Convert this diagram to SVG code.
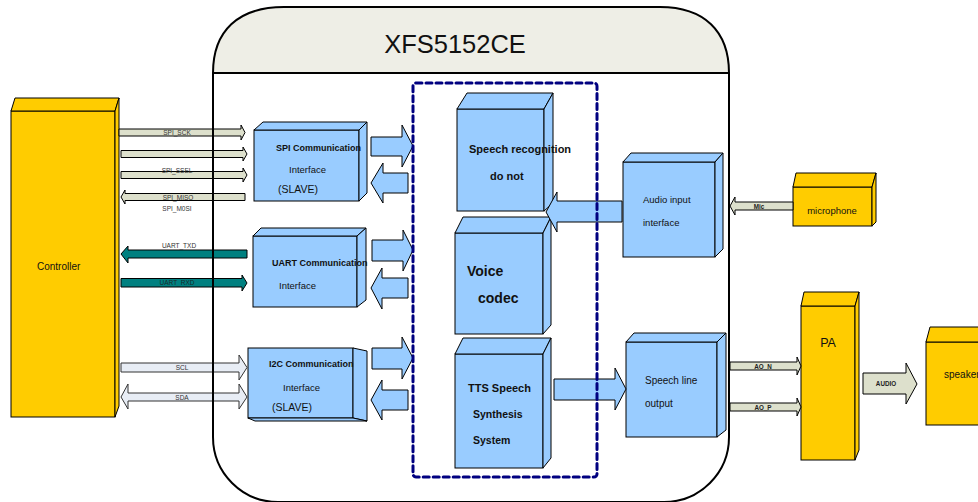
<svg xmlns="http://www.w3.org/2000/svg" width="978" height="502" viewBox="0 0 978 502">
<defs>
<style>
text{font-family:"Liberation Sans",Arial,sans-serif;fill:#111}
.blue{fill:#99CCFF;stroke:#000;stroke-width:1}
.yel{fill:#FFCC00;stroke:#000;stroke-width:1}
.beige{fill:#DDE0CC;stroke:#000;stroke-width:1}
.teal{fill:#008080;stroke:#000;stroke-width:1}
.pale{fill:#E8EDF5;stroke:#333;stroke-width:1}
.tiny{font-size:6.5px;fill:#333}
.tinyb{font-size:6.3px;font-weight:bold;fill:#222}
.b9{font-size:9px;font-weight:bold}
.n95{font-size:9.5px}
.b11{font-size:11px;font-weight:bold}
</style>
</defs>
<rect width="978" height="502" fill="#fff"/>
<g id="chip-bg">
<path d="M213,73 L213,437 A65,65 0 0 0 278,502 L664,502 A65,65 0 0 0 729,437 L729,73 Z" fill="#fff"/>
<path d="M213,73 C213,31 238,7 284,7 L660,7 C704,7 729,31 729,73 Z" fill="#EEEEE6"/>
</g>
<g id="controller">
<rect class="yel" x="11" y="111" width="104" height="306"/>
<polygon class="yel" points="11,111 15,98 119,98 115,111"/>
<polygon class="yel" points="115,111 119,98 119,406 115,417"/>
<text x="37" y="270" font-size="10">Controller</text>
</g>
<g id="spi-if">
<rect class="blue" x="254" y="130" width="105" height="71"/>
<polygon class="blue" points="254,130 263,122 367,122 359,130"/>
<polygon class="blue" points="359,130 367,122 367,193 359,201"/>
<text class="b9" x="276" y="151">SPI Communication</text>
<text class="n95" x="289" y="173">Interface</text>
<text x="278" y="193" font-size="10.5">(SLAVE)</text>
</g>
<g id="uart-if">
<rect class="blue" x="253" y="236" width="104" height="71"/>
<polygon class="blue" points="253,236 261,228 366,228 357,236"/>
<polygon class="blue" points="357,236 366,228 366,300 357,307"/>
<text class="b9" x="272" y="266">UART Communication</text>
<text class="n95" x="279" y="289">Interface</text>
</g>
<g id="i2c-if">
<rect class="blue" x="248" y="348" width="105" height="70"/>
<polygon class="blue" points="353,348 367,351 367,421 353,418"/>
<polygon class="blue" points="248,418 255,421 367,421 353,418"/>
<text class="b9" x="269" y="367">I2C Communication</text>
<text class="n95" x="283" y="391">Interface</text>
<text x="272" y="411" font-size="10.5">(SLAVE)</text>
</g>
<g id="speech-recognition">
<rect class="blue" x="457" y="109" width="87" height="102"/>
<polygon class="blue" points="457,109 467,93 553,93 544,109"/>
<polygon class="blue" points="544,109 553,93 553,203 544,211"/>
<text class="b11" x="469" y="153">Speech recognition</text>
<text class="b11" x="490" y="180">do not</text>
</g>
<g id="voice-codec">
<rect class="blue" x="455" y="233" width="88" height="101"/>
<polygon class="blue" points="455,233 463,217 551,217 543,233"/>
<polygon class="blue" points="543,233 551,217 551,325 543,334"/>
<text x="467" y="276" font-size="14" font-weight="bold">Voice</text>
<text x="478" y="303" font-size="14" font-weight="bold">codec</text>
</g>
<g id="tts">
<rect class="blue" x="455" y="354" width="88" height="114"/>
<polygon class="blue" points="455,354 463,338 551,338 543,354"/>
<polygon class="blue" points="543,354 551,338 551,458 543,468"/>
<text class="b11" x="468" y="392">TTS Speech</text>
<text x="473" y="418" font-size="10.5" font-weight="bold">Synthesis</text>
<text x="473" y="444" font-size="10.5" font-weight="bold">System</text>
</g>
<g id="audio-input">
<rect class="blue" x="623" y="162" width="92" height="95"/>
<polygon class="blue" points="623,162 631,153 723,153 715,162"/>
<polygon class="blue" points="715,162 723,153 723,249 715,257"/>
<text class="n95" x="643" y="203">Audio input</text>
<text class="n95" x="643" y="226">interface</text>
</g>
<g id="speech-line-output">
<rect class="blue" x="626" y="342" width="91" height="95"/>
<polygon class="blue" points="626,342 634,333 726,333 717,342"/>
<polygon class="blue" points="717,342 726,333 726,430 717,437"/>
<text x="645" y="384" font-size="10">Speech line</text>
<text x="645" y="407" font-size="10">output</text>
</g>
<g id="microphone">
<rect class="yel" x="793" y="187" width="79" height="39"/>
<polygon class="yel" points="793,187 796,173 876,173 872,187"/>
<polygon class="yel" points="872,187 876,173 876,222 872,226"/>
<text x="832" y="214" font-size="9.5" text-anchor="middle">microphone</text>
</g>
<g id="pa">
<rect class="yel" x="801" y="306" width="54" height="154"/>
<polygon class="yel" points="801,306 804,292 859,292 855,306"/>
<polygon class="yel" points="855,306 859,292 859,450 855,460"/>
<text x="828" y="347" font-size="12.5" text-anchor="middle">PA</text>
</g>
<g id="speaker">
<rect class="yel" x="926" y="342" width="62" height="83"/>
<polygon class="yel" points="926,342 930,327 992,327 988,342"/>
<text x="944" y="378" font-size="10">speaker</text>
</g>
<g id="connectors">
<polygon class="beige" points="119,129 241,129 241,125 245,132.5 241,140 241,136 119,136"/>
<text class="tiny" x="177" y="135" text-anchor="middle">SPI_SCK</text>
<polygon class="beige" points="121,150.5 243,150.5 243,147 247,154 243,161 243,157.5 121,157.5"/>
<polygon class="beige" points="121,171.5 243,171.5 243,168 247,175 243,182 243,178.5 121,178.5"/>
<text class="tiny" x="177" y="173" text-anchor="middle">SPI_SSEL</text>
<polygon class="beige" points="245,193.5 125,193.5 125,190 121,197 125,204 125,200.5 245,200.5"/>
<text class="tiny" x="178" y="199.5" text-anchor="middle">SPI_MISO</text>
<text class="tiny" x="177" y="211" text-anchor="middle">SPI_M0SI</text>
<polygon class="teal" points="247,250 128,250 128,246 121,254 128,263 128,258 247,258"/>
<text class="tiny" x="179" y="248" text-anchor="middle">UART_TXD</text>
<polygon class="teal" points="121,278.5 242,278.5 242,275 247,283 242,291 242,287 121,287"/>
<text class="tiny" x="177" y="285" text-anchor="middle" style="fill:#1a2a2a">UART_RXD</text>
<polygon class="pale" points="121,363 239,363 239,355 247,367.5 239,380 239,372 121,372"/>
<text class="tiny" x="182" y="369.5" text-anchor="middle">SCL</text>
<polygon class="pale" points="128,393 239,393 239,384 247,397 239,409 239,401 128,401 128,409 121,397 128,384"/>
<text class="tiny" x="182" y="399.5" text-anchor="middle">SDA</text>
<polygon class="blue" points="371,137 402,137 402,125 413,146 402,167 402,156 371,156"/>
<polygon class="blue" points="408,173 383,173 383,163 371,183 383,203 383,193 408,193"/>
<polygon class="blue" points="372,240 403,240 403,230 413,250 403,271 403,261 372,261"/>
<polygon class="blue" points="408,278 382,278 382,268 371,288 382,309 382,298 408,298"/>
<polygon class="blue" points="372,348 402,348 402,337 413,358 402,379 402,369 372,369"/>
<polygon class="blue" points="408,390 382,390 382,380 371,400 382,420 382,410 408,410"/>
<polygon class="blue" points="622,201 557,201 557,192 546,212 557,232 557,222 622,222"/>
<polygon class="blue" points="554,379 615,379 615,368 626,389 615,410 615,400 554,400"/>
<polygon class="beige" points="793,202 735,202 735,197 730,206 735,215 735,210 793,210"/>
<text class="tinyb" x="759" y="208.5" text-anchor="middle">Mic</text>
<polygon class="beige" points="730,362 797,362 797,357 801,366 797,375 797,370 730,370"/>
<text class="tinyb" x="763" y="368.5" text-anchor="middle">AO_N</text>
<polygon class="beige" points="730,403 797,403 797,398 801,407 797,416 797,411 730,411"/>
<text class="tinyb" x="763" y="409.5" text-anchor="middle">AO_P</text>
<polygon class="beige" points="863,373 906,373 906,363 917,384 906,404 906,394 863,394"/>
<text class="tinyb" x="886" y="386" text-anchor="middle">AUDIO</text>
</g>
<g id="chip">
<path d="M213,73 L213,437 A65,65 0 0 0 278,502 L664,502 A65,65 0 0 0 729,437 L729,73" fill="none" stroke="#000" stroke-width="2"/>
<path d="M213,73 C213,31 238,7 284,7 L660,7 C704,7 729,31 729,73 Z" fill="none" stroke="#000" stroke-width="2"/>
<text x="455" y="53" font-size="25.5" text-anchor="middle">XFS5152CE</text>
</g>
<g id="core-boundary">
<rect x="413" y="83" width="184" height="394" rx="3" fill="none" stroke="#000080" stroke-width="3" stroke-dasharray="6 4" stroke-linecap="round"/>
</g>
</svg>
